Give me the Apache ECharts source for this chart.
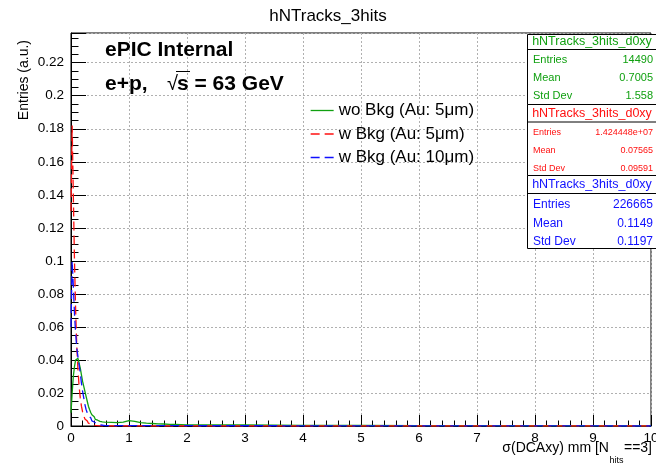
<!DOCTYPE html>
<html>
<head>
<meta charset="utf-8">
<script src="https://cdn.jsdelivr.net/npm/echarts@6/dist/echarts.min.js"></script>
<style>
  html, body { margin: 0; padding: 0; background: #fff; }
  #chart { width: 656px; height: 466px; }
</style>
</head>
<body>
<div id="chart"></div>
<script>
// histogram contents, bins of 0.02 mm from 0 to 0.6
const fineStart = 0
const fineWidth = 0.02
const greenFine = [0.008, 0.02, 0.03, 0.036, 0.04, 0.041, 0.04, 0.038, 0.035, 0.031,
  0.027, 0.024, 0.021, 0.018, 0.015, 0.012, 0.01, 0.0082, 0.0068, 0.0056,
  0.0047, 0.004, 0.0035, 0.0031, 0.0028, 0.0026, 0.0025, 0.0024, 0.0023, 0.0022]
const redFine = [0.13, 0.182, 0.14, 0.1, 0.07, 0.048, 0.034, 0.024, 0.017, 0.012,
  0.0085, 0.006, 0.0043, 0.0031, 0.0023, 0.0017, 0.0012, 0.0009, 0.0007, 0.0005,
  0.0004, 0.0003, 0.0002, 0.0002, 0.0001, 0.0001, 0.0001, 0, 0, 0]
const blueFine = [0.06, 0.1, 0.085, 0.068, 0.056, 0.047, 0.042, 0.037, 0.032, 0.026,
  0.021, 0.017, 0.013, 0.01, 0.008, 0.0062, 0.005, 0.004, 0.0031, 0.0024,
  0.0019, 0.0015, 0.0012, 0.001, 0.0008, 0.0006, 0.0005, 0.0004, 0.0003, 0.0002]
// green tail, read coarser: 0.1 mm bins from 0.6, then 1 mm bins from 2
const greenMid = [0.0022, 0.002, 0.0024, 0.0032, 0.0028, 0.0021, 0.0017, 0.0015,
  0.0013, 0.0012, 0.001, 0.0009, 0.0008, 0.0007]
const greenTail = [0.0006, 0.0004, 0.0003, 0.00025, 0.0002, 0.00015, 0.0001, 0.0001]

const seriesNames = ['wo Bkg (Au: 5\u03bcm)', 'w Bkg (Au: 5\u03bcm)', 'w Bkg (Au: 10\u03bcm)']
const seriesColors = ['#10a010', '#ff1010', '#1010ff']

// stats boxes
const statTitle = 'hNTracks_3hits_d0xy'
const statLabels = ['Entries', 'Mean', 'Std Dev']
const statEntries = ['14490', '1.424448e+07', '226665']
const statMeans = ['0.7005', '0.07565', '0.1149']
const statStd = ['1.558', '0.09591', '0.1197']

// x title pieces: main, subscript, tail
const xTitle = ['\u03c3(DCAxy) mm [N', 'hits', '==3]']

const xTicks = [0, 10, 1]
const yTicks = [0, 0.238, 0.02]

const FONT = 'Liberation Sans, Arial, Helvetica, sans-serif'
const DASH = [9, 5]

// turn bin contents into step points (low edges + closing edge)
const addBins = (pts, start, width, vals) => {
  vals.forEach((v, i) => pts.push([+(start + i * width).toFixed(4), v]))
  return start + vals.length * width
}
const histPoints = (parts) => {
  const pts = []
  let edge = 0
  parts.forEach(p => { edge = addBins(pts, p[0], p[1], p[2]) })
  pts.push([+edge.toFixed(4), 0])
  if (edge < xTicks[1]) pts.push([xTicks[1], 0])
  return pts
}

const greenPts = histPoints([[fineStart, fineWidth, greenFine], [0.6, 0.1, greenMid], [2, 1, greenTail]])
const redPts = histPoints([[fineStart, fineWidth, redFine]])
const bluePts = histPoints([[fineStart, fineWidth, blueFine]])

const chart = echarts.init(document.getElementById('chart'))

// text width helper for the x title
const measure = (txt, font) => {
  const ctx = document.createElement('canvas').getContext('2d')
  ctx.font = font
  return ctx.measureText(txt).width
}

// stat box graphics
const boxes = [
  { top: 34, sep: 49, bottom: 104, rows: [59.5, 77.5, 95.5], fs: 11, ts: 12.5 },
  { top: 104, sep: 121.5, bottom: 175, rows: [132.5, 150.5, 169], fs: 9, ts: 12.5 },
  { top: 175, sep: 193, bottom: 248, rows: [205, 223.5, 241.5], fs: 12, ts: 12.5 }
]
const statValues = [statEntries, statMeans, statStd]
const graphic = []
boxes.forEach((b, k) => {
  const col = seriesColors[k]
  graphic.push({ type: 'rect', shape: { x: 527.5, y: b.top + 0.5, width: 130, height: b.bottom - b.top },
    style: { fill: '#fff', stroke: '#000', lineWidth: 1 }, z: 10 })
  graphic.push({ type: 'line', shape: { x1: 527.5, y1: b.sep + 0.5, x2: 656, y2: b.sep + 0.5 },
    style: { stroke: '#000', lineWidth: 1 }, z: 11 })
  graphic.push({ type: 'text', x: 592, y: (b.top + b.sep) / 2 + 0.5, z: 12,
    style: { text: statTitle, fill: col, font: b.ts + 'px ' + FONT, align: 'center', verticalAlign: 'middle' } })
  statLabels.forEach((lab, r) => {
    graphic.push({ type: 'text', x: 533, y: b.rows[r], z: 12,
      style: { text: lab, fill: col, font: b.fs + 'px ' + FONT, align: 'left', verticalAlign: 'middle' } })
    graphic.push({ type: 'text', x: 653, y: b.rows[r], z: 12,
      style: { text: statValues[r][k], fill: col, font: b.fs + 'px ' + FONT, align: 'right', verticalAlign: 'middle' } })
  })
})

// x axis title, built from three pieces so the subscript can drop
const xMainFont = '14px ' + FONT
const xSubFont = '9px ' + FONT
const xRight = 652
const wTail = measure(xTitle[2], xMainFont)
const wSub = measure(xTitle[1], xSubFont)
graphic.push(
  { type: 'text', x: xRight, y: 448.5, z: 12,
    style: { text: xTitle[2], fill: '#000', font: xMainFont, align: 'right', verticalAlign: 'middle' } },
  { type: 'text', x: xRight - wTail - 0.5, y: 461, z: 12,
    style: { text: xTitle[1], fill: '#000', font: xSubFont, align: 'right', verticalAlign: 'middle' } },
  { type: 'text', x: xRight - wTail - wSub - 1, y: 448.5, z: 12,
    style: { text: xTitle[0], fill: '#000', font: xMainFont, align: 'right', verticalAlign: 'middle' } }
)

// labels on the pad
graphic.push(
  { type: 'text', x: 105, y: 50.5, z: 12,
    style: { text: 'ePIC Internal', fill: '#000', font: 'bold 21px ' + FONT, verticalAlign: 'middle' } },
  { type: 'text', x: 105, y: 84, z: 12,
    style: { text: 'e+p,', fill: '#000', font: 'bold 21px ' + FONT, verticalAlign: 'middle' } },
  { type: 'text', x: 167, y: 84, z: 12,
    style: { text: '\u221a', fill: '#000', font: '20px ' + FONT, verticalAlign: 'middle' } },
  { type: 'line', shape: { x1: 176, y1: 71.5, x2: 190, y2: 71.5 }, style: { stroke: '#000', lineWidth: 1 }, z: 12 },
  { type: 'text', x: 177, y: 84, z: 12,
    style: { text: 's = 63 GeV', fill: '#000', font: 'bold 21px ' + FONT, verticalAlign: 'middle' } },
  { type: 'text', x: 24, y: 40, rotation: Math.PI / 2, z: 12,
    style: { text: 'Entries (a.u.)', fill: '#000', font: '14px ' + FONT, align: 'right', verticalAlign: 'middle' } }
)

const mkSeries = (name, color, pts, dashed) => ({
  name: name,
  type: 'line',
  step: 'end',
  data: pts,
  symbol: 'none',
  lineStyle: { color: color, width: 1.3, type: dashed ? DASH : 'solid' },
  itemStyle: { color: color },
  animation: false
})

chart.setOption({
  animation: false,
  textStyle: { fontFamily: FONT },
  title: {
    text: 'hNTracks_3hits',
    left: 'center',
    top: 8,
    padding: 0,
    textStyle: { fontSize: 17, fontWeight: 'normal', color: '#000', fontFamily: FONT }
  },
  legend: {
    orient: 'vertical',
    left: 310,
    top: 102,
    padding: 0,
    itemWidth: 23,
    itemHeight: 14,
    itemGap: 6.5,
    itemStyle: { opacity: 0 },
    data: seriesNames.map((n, i) => ({
      name: n,
      lineStyle: { color: seriesColors[i], width: 1.3, type: i ? DASH : 'solid' }
    })),
    textStyle: { fontSize: 17, color: '#000', fontFamily: FONT }
  },
  grid: {
    left: 71, right: 5, top: 33, bottom: 40,
    outerBoundsMode: 'none',
    containLabel: false,
    show: true, borderColor: '#000', borderWidth: 1
  },
  xAxis: {
    type: 'value',
    min: xTicks[0], max: xTicks[1], interval: xTicks[2],
    axisLine: { lineStyle: { color: '#000', width: 1 } },
    axisTick: { inside: true, length: 11, lineStyle: { color: '#000' } },
    minorTick: { show: true, splitNumber: 5, length: 5.5, lineStyle: { color: '#000' } },
    splitLine: { show: true, lineStyle: { color: '#b0b0b0', type: [2, 2], width: 1 } },
    axisLabel: { fontSize: 13.5, color: '#000', margin: 5, fontFamily: FONT }
  },
  yAxis: {
    type: 'value',
    min: yTicks[0], max: yTicks[1], interval: yTicks[2],
    axisLine: { show: true, lineStyle: { color: '#000', width: 1 } },
    axisTick: { show: true, inside: true, length: 15, lineStyle: { color: '#000' } },
    minorTick: { show: true, splitNumber: 4, length: 7.5, lineStyle: { color: '#000' } },
    splitLine: { show: true, lineStyle: { color: '#b0b0b0', type: [2, 2], width: 1 } },
    axisLabel: {
      fontSize: 13.5, color: '#000', margin: 7, fontFamily: FONT, showMaxLabel: false,
      formatter: v => String(+v.toFixed(3))
    }
  },
  series: [
    mkSeries(seriesNames[0], seriesColors[0], greenPts, false),
    mkSeries(seriesNames[1], seriesColors[1], redPts, true),
    mkSeries(seriesNames[2], seriesColors[2], bluePts, true)
  ],
  graphic: graphic
})
</script>
</body>
</html>
